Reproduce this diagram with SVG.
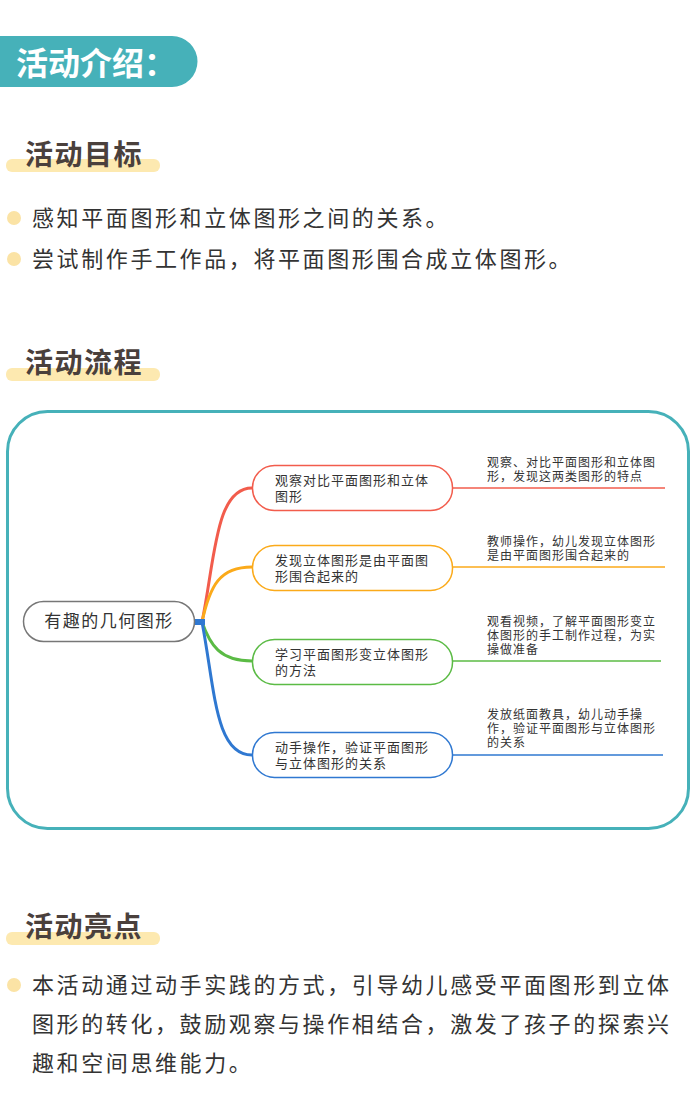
<svg xmlns="http://www.w3.org/2000/svg" width="700" height="1117" viewBox="0 0 700 1117">
<style>
text{font-family:"Noto Sans CJK SC",sans-serif}
.h{font-size:28px;font-weight:bold;fill:#4a403c;letter-spacing:1.5px}
.bar{fill:#fde9b0}
.dot{fill:#fbe3a5}
.p{font-size:22px;fill:#333;letter-spacing:2.6px}
.n{font-size:13px;fill:#333;letter-spacing:1px}
.l{font-size:12px;fill:#333;letter-spacing:1px}
.node{fill:#fff;stroke-width:1.5}
.c{fill:none;stroke-width:3}
</style>
<rect width="700" height="1117" fill="#fff"/>
<path d="M0 36H172a25.5 25.5 0 0 1 0 51H0Z" fill="#46b1b9"/>
<text x="16" y="75" font-size="32" font-weight="bold" fill="#fff">活动介绍：</text>

<rect class="bar" x="6" y="159" width="154" height="13" rx="6"/>
<text class="h" x="25" y="165">活动目标</text>
<circle class="dot" cx="14" cy="218" r="7"/>
<text class="p" x="32" y="226">感知平面图形和立体图形之间的关系。</text>
<circle class="dot" cx="14" cy="259" r="7"/>
<text class="p" x="32" y="267">尝试制作手工作品，将平面图形围合成立体图形。</text>

<rect class="bar" x="6" y="368" width="154" height="13" rx="6"/>
<text class="h" x="25" y="373">活动流程</text>

<rect x="7.5" y="411.5" width="681" height="417" rx="40" fill="none" stroke="#46b1b9" stroke-width="3"/>

<g id="connectors">
<path class="c" stroke="#f25c4c" d="M202 622C215 560 215 488 252 488"/>
<path class="c" stroke="#fbaa1a" d="M202 622C210 585 220 567 252 567"/>
<path class="c" stroke="#5bbb45" d="M202 622C210 645 220 661 252 661"/>
<path class="c" stroke="#2f78d1" d="M202 622C215 690 215 755 252 755"/>
<rect x="195" y="619" width="10" height="6" fill="#2f78d1"/>
<line x1="453" y1="488" x2="665" y2="488" stroke="#f25c4c" stroke-width="1.5"/>
<line x1="453" y1="567" x2="665" y2="567" stroke="#fbaa1a" stroke-width="1.5"/>
<line x1="453" y1="661" x2="661" y2="661" stroke="#5bbb45" stroke-width="1.5"/>
<line x1="453" y1="755" x2="663" y2="755" stroke="#2f78d1" stroke-width="1.5"/>
</g>

<g id="center"><rect class="node" x="23.5" y="601.5" width="171" height="40" rx="20" stroke="#777"/>
<text x="109" y="627" font-size="17" fill="#333" letter-spacing="1.5" text-anchor="middle">有趣的几何图形</text></g>

<g id="n1"><rect class="node" x="252.5" y="465.5" width="200" height="45" rx="22" stroke="#f25c4c"/>
<text class="n" x="275" y="485">观察对比平面图形和立体</text><text class="n" x="275" y="501">图形</text></g>
<g id="n2"><rect class="node" x="252.5" y="545.5" width="200" height="45" rx="22" stroke="#fbaa1a"/>
<text class="n" x="275" y="565">发现立体图形是由平面图</text><text class="n" x="275" y="581">形围合起来的</text></g>
<g id="n3"><rect class="node" x="252.5" y="639.5" width="200" height="45" rx="22" stroke="#5bbb45"/>
<text class="n" x="275" y="659">学习平面图形变立体图形</text><text class="n" x="275" y="675">的方法</text></g>
<g id="n4"><rect class="node" x="252.5" y="732.5" width="200" height="45" rx="22" stroke="#2f78d1"/>
<text class="n" x="275" y="752">动手操作，验证平面图形</text><text class="n" x="275" y="768">与立体图形的关系</text></g>

<g id="l1"><text class="l" x="487" y="467">观察、对比平面图形和立体图</text><text class="l" x="487" y="481">形，发现这两类图形的特点</text></g>
<g id="l2"><text class="l" x="487" y="546">教师操作，幼儿发现立体图形</text><text class="l" x="487" y="560">是由平面图形围合起来的</text></g>
<g id="l3"><text class="l" x="487" y="626">观看视频，了解平面图形变立</text><text class="l" x="487" y="640">体图形的手工制作过程，为实</text><text class="l" x="487" y="654">操做准备</text></g>
<g id="l4"><text class="l" x="487" y="719">发放纸面教具，幼儿动手操</text><text class="l" x="487" y="733">作，验证平面图形与立体图形</text><text class="l" x="487" y="747">的关系</text></g>

<rect class="bar" x="6" y="932" width="154" height="13" rx="6"/>
<text class="h" x="25" y="937">活动亮点</text>
<circle class="dot" cx="14" cy="985" r="7"/>
<text class="p" x="32" y="993">本活动通过动手实践的方式，引导幼儿感受平面图形到立体</text>
<text class="p" x="32" y="1032">图形的转化，鼓励观察与操作相结合，激发了孩子的探索兴</text>
<text class="p" x="32" y="1071">趣和空间思维能力。</text>
</svg>
